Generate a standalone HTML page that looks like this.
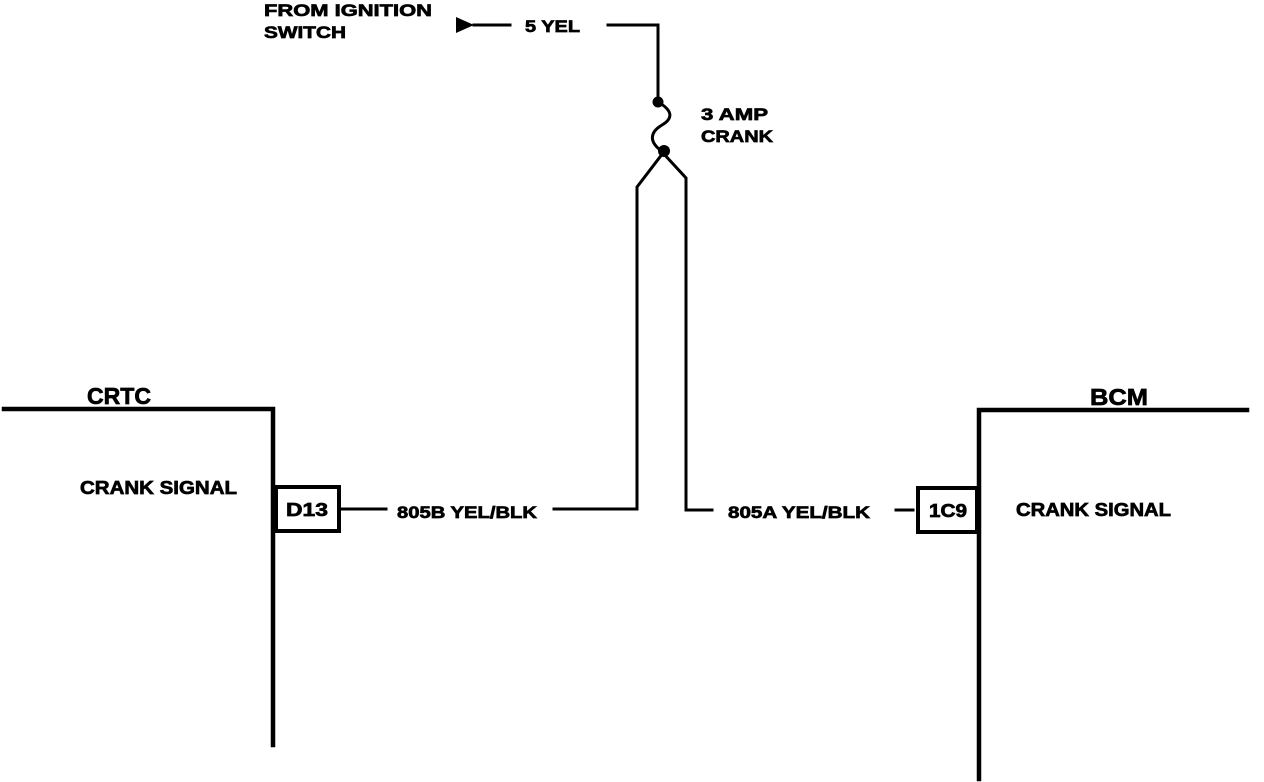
<!DOCTYPE html>
<html><head><meta charset="utf-8"><style>
html,body{margin:0;padding:0;background:#fff;}
svg{display:block;}
text{font-family:"Liberation Sans",sans-serif;font-weight:bold;fill:#000;stroke:#000;stroke-width:0.7;}
</style></head><body>
<svg width="1264" height="782" viewBox="0 0 1264 782" xmlns="http://www.w3.org/2000/svg">
<g stroke="#000" fill="none" stroke-linecap="square">
<path d="M4 409 H273 V745" stroke-width="4.5"/>
<rect x="276" y="487" width="63" height="44" stroke-width="4"/>
<path d="M979 779 V410 H1247" stroke-width="4.5"/>
<rect x="918" y="488" width="59" height="44" stroke-width="4"/>
<g stroke-width="3">
<path d="M341 509 H386"/>
<path d="M554 509 H637 V187 L663 153"/>
<path d="M663 153 L686 178 V510 H712"/>
<path d="M896 510 H913"/>
<path d="M474 25 H510"/>
<path d="M608 25 H658 V101"/>
<path d="M658 102 C 672 110, 674 118, 662 125 C 650 132, 648 142, 663 152"/>
</g>
</g>
<polygon points="456,17 456,33 474,25" fill="#000"/>
<circle cx="658" cy="102" r="5.5" fill="#000"/>
<circle cx="664" cy="151" r="6" fill="#000"/>
<text x="264" y="16" font-size="17" textLength="168" lengthAdjust="spacingAndGlyphs">FROM IGNITION</text>
<text x="264" y="38" font-size="17" textLength="82" lengthAdjust="spacingAndGlyphs">SWITCH</text>
<text x="525" y="32" font-size="17" textLength="55" lengthAdjust="spacingAndGlyphs">5 YEL</text>
<text x="701" y="120" font-size="17" textLength="67" lengthAdjust="spacingAndGlyphs">3 AMP</text>
<text x="701" y="142" font-size="17" textLength="72" lengthAdjust="spacingAndGlyphs">CRANK</text>
<text x="87" y="404" font-size="23" textLength="64" lengthAdjust="spacingAndGlyphs">CRTC</text>
<text x="1090" y="405" font-size="23" textLength="58" lengthAdjust="spacingAndGlyphs">BCM</text>
<text x="80" y="494" font-size="18" textLength="157" lengthAdjust="spacingAndGlyphs">CRANK SIGNAL</text>
<text x="1016" y="516" font-size="18" textLength="155" lengthAdjust="spacingAndGlyphs">CRANK SIGNAL</text>
<text x="286" y="516" font-size="18" textLength="42" lengthAdjust="spacingAndGlyphs">D13</text>
<text x="929" y="517" font-size="18" textLength="38" lengthAdjust="spacingAndGlyphs">1C9</text>
<text x="397" y="518" font-size="17" textLength="140" lengthAdjust="spacingAndGlyphs">805B YEL/BLK</text>
<text x="728" y="518" font-size="17" textLength="142" lengthAdjust="spacingAndGlyphs">805A YEL/BLK</text>
</svg>
</body></html>
